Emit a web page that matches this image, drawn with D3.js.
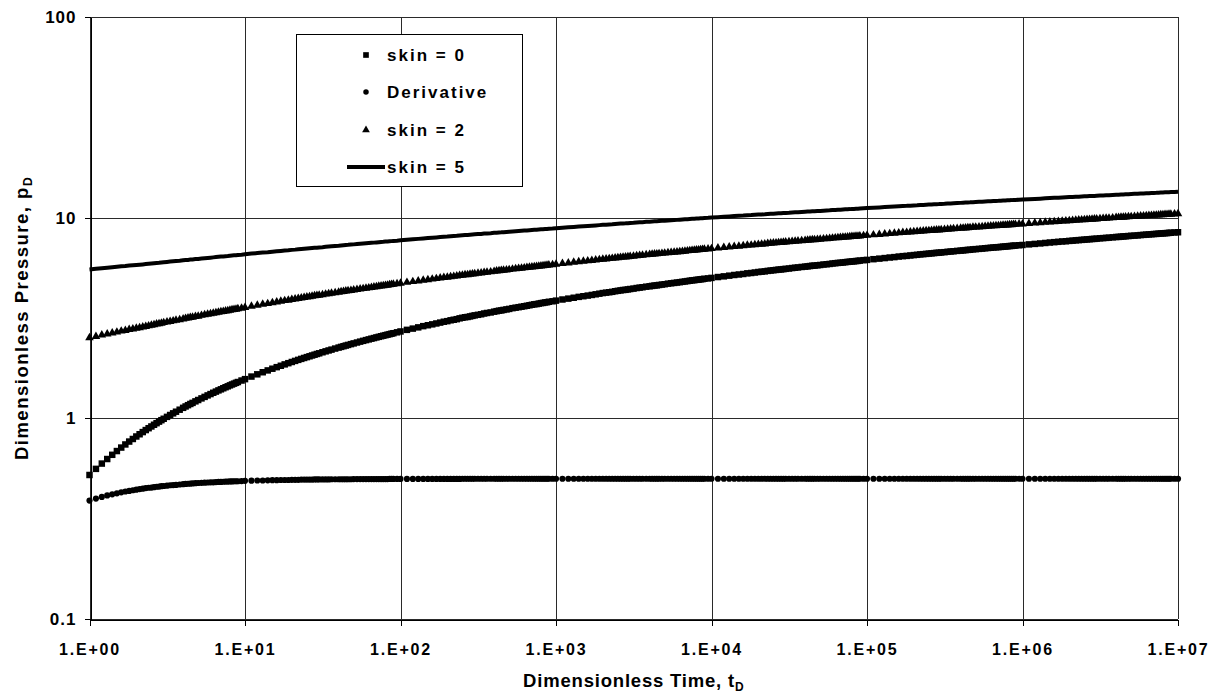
<!DOCTYPE html>
<html>
<head>
<meta charset="utf-8">
<script src="https://cdn.jsdelivr.net/npm/d3@7/dist/d3.min.js"></script>
<style>
  html, body { margin: 0; padding: 0; background: #fff; }
  svg { display: block; }
  text { font-family: "Liberation Sans", Arial, Helvetica, sans-serif; font-weight: bold; fill: #000; }
</style>
</head>
<body>
<svg id="chart" width="1215" height="693"></svg>
<script>
// Dimensionless time samples (shared by every series), 50 per decade
const tD = [
  1,1.1,1.2,1.3,1.4,1.5,1.6,1.7,1.8,1.9, 2,2.1,2.2,2.3,2.4,2.5,2.6,2.7,2.8,2.9,
  3,3.15,3.3,3.45,3.6,3.8,4,4.15,4.3,4.45, 4.6,4.8,5,5.25,5.5,5.75,6,6.25,6.5,6.75,
  7,7.25,7.5,7.75,8,8.25,8.5,8.75,9,9.5,
  1e1,1.1e1,1.2e1,1.3e1,1.4e1,1.5e1,1.6e1,1.7e1,1.8e1,1.9e1, 2e1,2.1e1,2.2e1,2.3e1,2.4e1,2.5e1,2.6e1,2.7e1,2.8e1,2.9e1,
  3e1,3.15e1,3.3e1,3.45e1,3.6e1,3.8e1,4e1,4.15e1,4.3e1,4.45e1, 4.6e1,4.8e1,5e1,5.25e1,5.5e1,5.75e1,6e1,6.25e1,6.5e1,6.75e1,
  7e1,7.25e1,7.5e1,7.75e1,8e1,8.25e1,8.5e1,8.75e1,9e1,9.5e1,
  1e2,1.1e2,1.2e2,1.3e2,1.4e2,1.5e2,1.6e2,1.7e2,1.8e2,1.9e2, 2e2,2.1e2,2.2e2,2.3e2,2.4e2,2.5e2,2.6e2,2.7e2,2.8e2,2.9e2,
  3e2,3.15e2,3.3e2,3.45e2,3.6e2,3.8e2,4e2,4.15e2,4.3e2,4.45e2, 4.6e2,4.8e2,5e2,5.25e2,5.5e2,5.75e2,6e2,6.25e2,6.5e2,6.75e2,
  7e2,7.25e2,7.5e2,7.75e2,8e2,8.25e2,8.5e2,8.75e2,9e2,9.5e2,
  1e3,1.1e3,1.2e3,1.3e3,1.4e3,1.5e3,1.6e3,1.7e3,1.8e3,1.9e3, 2e3,2.1e3,2.2e3,2.3e3,2.4e3,2.5e3,2.6e3,2.7e3,2.8e3,2.9e3,
  3e3,3.15e3,3.3e3,3.45e3,3.6e3,3.8e3,4e3,4.15e3,4.3e3,4.45e3, 4.6e3,4.8e3,5e3,5.25e3,5.5e3,5.75e3,6e3,6.25e3,6.5e3,6.75e3,
  7e3,7.25e3,7.5e3,7.75e3,8e3,8.25e3,8.5e3,8.75e3,9e3,9.5e3,
  1e4,1.1e4,1.2e4,1.3e4,1.4e4,1.5e4,1.6e4,1.7e4,1.8e4,1.9e4, 2e4,2.1e4,2.2e4,2.3e4,2.4e4,2.5e4,2.6e4,2.7e4,2.8e4,2.9e4,
  3e4,3.15e4,3.3e4,3.45e4,3.6e4,3.8e4,4e4,4.15e4,4.3e4,4.45e4, 4.6e4,4.8e4,5e4,5.25e4,5.5e4,5.75e4,6e4,6.25e4,6.5e4,6.75e4,
  7e4,7.25e4,7.5e4,7.75e4,8e4,8.25e4,8.5e4,8.75e4,9e4,9.5e4,
  1e5,1.1e5,1.2e5,1.3e5,1.4e5,1.5e5,1.6e5,1.7e5,1.8e5,1.9e5, 2e5,2.1e5,2.2e5,2.3e5,2.4e5,2.5e5,2.6e5,2.7e5,2.8e5,2.9e5,
  3e5,3.15e5,3.3e5,3.45e5,3.6e5,3.8e5,4e5,4.15e5,4.3e5,4.45e5, 4.6e5,4.8e5,5e5,5.25e5,5.5e5,5.75e5,6e5,6.25e5,6.5e5,6.75e5,
  7e5,7.25e5,7.5e5,7.75e5,8e5,8.25e5,8.5e5,8.75e5,9e5,9.5e5,
  1e6,1.1e6,1.2e6,1.3e6,1.4e6,1.5e6,1.6e6,1.7e6,1.8e6,1.9e6, 2e6,2.1e6,2.2e6,2.3e6,2.4e6,2.5e6,2.6e6,2.7e6,2.8e6,2.9e6,
  3e6,3.15e6,3.3e6,3.45e6,3.6e6,3.8e6,4e6,4.15e6,4.3e6,4.45e6, 4.6e6,4.8e6,5e6,5.25e6,5.5e6,5.75e6,6e6,6.25e6,6.5e6,6.75e6,
  7e6,7.25e6,7.5e6,7.75e6,8e6,8.25e6,8.5e6,8.75e6,9e6,9.5e6,
  1e7
];

// Dimensionless pressure, skin = 0
const pSkin0 = [
  0.522,0.560,0.595,0.627,0.658,0.687,0.715,0.741,0.766,0.789, 0.812,0.833,0.854,0.874,0.893,0.911,0.929,0.946,0.963,0.979,
  0.995,1.017,1.039,1.059,1.079,1.104,1.128,1.146,1.163,1.179, 1.194,1.215,1.234,1.257,1.279,1.301,1.321,1.341,1.359,1.378,
  1.395,1.412,1.429,1.444,1.460,1.475,1.489,1.503,1.517,1.543,
  1.568,1.615,1.657,1.697,1.733,1.767,1.799,1.828,1.857,1.883, 1.909,1.933,1.956,1.978,1.999,2.019,2.038,2.057,2.075,2.093,
  2.109,2.134,2.157,2.179,2.200,2.227,2.252,2.270,2.288,2.305, 2.322,2.343,2.363,2.387,2.411,2.433,2.454,2.474,2.494,2.512,
  2.531,2.548,2.565,2.581,2.597,2.612,2.627,2.642,2.656,2.683,
  2.71,2.76,2.80,2.84,2.88,2.91,2.94,2.97,3.00,3.03, 3.05,3.08,3.10,3.12,3.15,3.17,3.19,3.20,3.22,3.24,
  3.26,3.28,3.30,3.33,3.35,3.37,3.40,3.42,3.44,3.45, 3.47,3.49,3.51,3.54,3.56,3.58,3.60,3.62,3.64,3.66,
  3.68,3.70,3.71,3.73,3.75,3.76,3.78,3.79,3.81,3.83,
  3.86,3.91,3.95,3.99,4.03,4.06,4.09,4.12,4.15,4.18, 4.21,4.23,4.25,4.27,4.30,4.32,4.34,4.36,4.37,4.39,
  4.41,4.43,4.46,4.48,4.50,4.53,4.55,4.57,4.59,4.60, 4.62,4.64,4.66,4.69,4.71,4.73,4.75,4.77,4.79,4.81,
  4.83,4.85,4.87,4.88,4.90,4.91,4.93,4.94,4.96,4.98,
  5.01,5.06,5.10,5.14,5.18,5.21,5.24,5.28,5.30,5.33, 5.36,5.38,5.40,5.43,5.45,5.47,5.49,5.51,5.52,5.54,
  5.56,5.58,5.61,5.63,5.65,5.68,5.70,5.72,5.74,5.76, 5.77,5.79,5.81,5.84,5.86,5.88,5.91,5.93,5.95,5.96,
  5.98,6.00,6.02,6.03,6.05,6.06,6.08,6.09,6.11,6.14,
  6.16,6.21,6.25,6.29,6.33,6.36,6.40,6.43,6.45,6.48, 6.51,6.53,6.56,6.58,6.60,6.62,6.64,6.66,6.68,6.69,
  6.71,6.73,6.76,6.78,6.80,6.83,6.85,6.87,6.89,6.91, 6.92,6.95,6.97,6.99,7.01,7.04,7.06,7.08,7.10,7.12,
  7.13,7.15,7.17,7.18,7.20,7.22,7.23,7.25,7.26,7.29,
  7.31,7.36,7.40,7.44,7.48,7.52,7.55,7.58,7.61,7.63, 7.66,7.68,7.71,7.73,7.75,7.77,7.79,7.81,7.83,7.84,
  7.86,7.89,7.91,7.93,7.95,7.98,8.01,8.02,8.04,8.06, 8.08,8.10,8.12,8.14,8.16,8.19,8.21,8.23,8.25,8.27,
  8.29,8.30,8.32,8.34,8.35,8.37,8.38,8.40,8.41,8.44,
  8.46
];

// Pressure derivative
const pDeriv = [
  0.389,0.398,0.406,0.413,0.418,0.423,0.428,0.432,0.435,0.438, 0.441,0.444,0.446,0.449,0.451,0.452,0.454,0.456,0.457,0.459,
  0.460,0.462,0.464,0.465,0.466,0.468,0.470,0.471,0.472,0.473, 0.474,0.475,0.476,0.477,0.478,0.479,0.480,0.480,0.481,0.482,
  0.482,0.483,0.484,0.484,0.485,0.485,0.486,0.486,0.486,0.487,
  0.488,0.489,0.490,0.490,0.491,0.492,0.492,0.493,0.493,0.493, 0.494,0.494,0.494,0.495,0.495,0.495,0.495,0.495,0.496,0.496,
  0.496,0.496,0.496,0.496,0.497,0.497,0.497,0.497,0.497,0.497, 0.497,0.497,0.498,0.498,0.498,0.498,0.498,0.498,0.498,0.498,
  0.498,0.498,0.498,0.498,0.498,0.498,0.499,0.499,0.499,0.499,
  0.499,0.499,0.499,0.499,0.499,0.499,0.499,0.499,0.499,0.499, 0.499,0.499,0.499,0.499,0.499,0.5,0.5,0.5,0.5,0.5,
  0.5,0.5,0.5,0.5,0.5,0.5,0.5,0.5,0.5,0.5, 0.5,0.5,0.5,0.5,0.5,0.5,0.5,0.5,0.5,0.5,
  0.5,0.5,0.5,0.5,0.5,0.5,0.5,0.5,0.5,0.5,
  0.5,0.5,0.5,0.5,0.5,0.5,0.5,0.5,0.5,0.5, 0.5,0.5,0.5,0.5,0.5,0.5,0.5,0.5,0.5,0.5,
  0.5,0.5,0.5,0.5,0.5,0.5,0.5,0.5,0.5,0.5, 0.5,0.5,0.5,0.5,0.5,0.5,0.5,0.5,0.5,0.5,
  0.5,0.5,0.5,0.5,0.5,0.5,0.5,0.5,0.5,0.5,
  0.5,0.5,0.5,0.5,0.5,0.5,0.5,0.5,0.5,0.5, 0.5,0.5,0.5,0.5,0.5,0.5,0.5,0.5,0.5,0.5,
  0.5,0.5,0.5,0.5,0.5,0.5,0.5,0.5,0.5,0.5, 0.5,0.5,0.5,0.5,0.5,0.5,0.5,0.5,0.5,0.5,
  0.5,0.5,0.5,0.5,0.5,0.5,0.5,0.5,0.5,0.5,
  0.5,0.5,0.5,0.5,0.5,0.5,0.5,0.5,0.5,0.5, 0.5,0.5,0.5,0.5,0.5,0.5,0.5,0.5,0.5,0.5,
  0.5,0.5,0.5,0.5,0.5,0.5,0.5,0.5,0.5,0.5, 0.5,0.5,0.5,0.5,0.5,0.5,0.5,0.5,0.5,0.5,
  0.5,0.5,0.5,0.5,0.5,0.5,0.5,0.5,0.5,0.5,
  0.5,0.5,0.5,0.5,0.5,0.5,0.5,0.5,0.5,0.5, 0.5,0.5,0.5,0.5,0.5,0.5,0.5,0.5,0.5,0.5,
  0.5,0.5,0.5,0.5,0.5,0.5,0.5,0.5,0.5,0.5, 0.5,0.5,0.5,0.5,0.5,0.5,0.5,0.5,0.5,0.5,
  0.5,0.5,0.5,0.5,0.5,0.5,0.5,0.5,0.5,0.5,
  0.5
];

// Dimensionless pressure, skin = 2
const pSkin2 = [
  2.52,2.56,2.60,2.63,2.66,2.69,2.72,2.74,2.77,2.79, 2.81,2.83,2.85,2.87,2.89,2.91,2.93,2.95,2.96,2.98,
  3.00,3.02,3.04,3.06,3.08,3.10,3.13,3.15,3.16,3.18, 3.19,3.22,3.23,3.26,3.28,3.30,3.32,3.34,3.36,3.38,
  3.40,3.41,3.43,3.44,3.46,3.48,3.49,3.50,3.52,3.54,
  3.57,3.62,3.66,3.70,3.73,3.77,3.80,3.83,3.86,3.88, 3.91,3.93,3.96,3.98,4.00,4.02,4.04,4.06,4.08,4.09,
  4.11,4.13,4.16,4.18,4.20,4.23,4.25,4.27,4.29,4.31, 4.32,4.34,4.36,4.39,4.41,4.43,4.45,4.47,4.49,4.51,
  4.53,4.55,4.57,4.58,4.60,4.61,4.63,4.64,4.66,4.68,
  4.71,4.76,4.80,4.84,4.88,4.91,4.94,4.97,5.00,5.03, 5.05,5.08,5.10,5.12,5.15,5.17,5.19,5.20,5.22,5.24,
  5.26,5.28,5.30,5.33,5.35,5.37,5.40,5.42,5.44,5.45, 5.47,5.49,5.51,5.54,5.56,5.58,5.60,5.62,5.64,5.66,
  5.68,5.70,5.71,5.73,5.75,5.76,5.78,5.79,5.81,5.83,
  5.86,5.91,5.95,5.99,6.03,6.06,6.09,6.12,6.15,6.18, 6.21,6.23,6.25,6.27,6.30,6.32,6.34,6.36,6.37,6.39,
  6.41,6.43,6.46,6.48,6.50,6.53,6.55,6.57,6.59,6.60, 6.62,6.64,6.66,6.69,6.71,6.73,6.75,6.77,6.79,6.81,
  6.83,6.85,6.87,6.88,6.90,6.91,6.93,6.94,6.96,6.98,
  7.01,7.06,7.10,7.14,7.18,7.21,7.24,7.28,7.30,7.33, 7.36,7.38,7.40,7.43,7.45,7.47,7.49,7.51,7.52,7.54,
  7.56,7.58,7.61,7.63,7.65,7.68,7.70,7.72,7.74,7.76, 7.77,7.79,7.81,7.84,7.86,7.88,7.91,7.93,7.95,7.96,
  7.98,8.00,8.02,8.03,8.05,8.06,8.08,8.09,8.11,8.14,
  8.16,8.21,8.25,8.29,8.33,8.36,8.40,8.43,8.45,8.48, 8.51,8.53,8.56,8.58,8.60,8.62,8.64,8.66,8.68,8.69,
  8.71,8.73,8.76,8.78,8.80,8.83,8.85,8.87,8.89,8.91, 8.92,8.95,8.97,8.99,9.01,9.04,9.06,9.08,9.10,9.12,
  9.13,9.15,9.17,9.18,9.20,9.22,9.23,9.25,9.26,9.29,
  9.31,9.36,9.40,9.44,9.48,9.52,9.55,9.58,9.61,9.63, 9.66,9.68,9.71,9.73,9.75,9.77,9.79,9.81,9.83,9.84,
  9.86,9.89,9.91,9.93,9.95,9.98,10.01,10.02,10.04,10.06, 10.08,10.10,10.12,10.14,10.16,10.19,10.21,10.23,10.25,10.27,
  10.29,10.30,10.32,10.34,10.35,10.37,10.38,10.40,10.41,10.44,
  10.46
];

// Dimensionless pressure, skin = 5
const pSkin5 = [
  5.52,5.56,5.60,5.63,5.66,5.69,5.72,5.74,5.77,5.79, 5.81,5.83,5.85,5.87,5.89,5.91,5.93,5.95,5.96,5.98,
  6.00,6.02,6.04,6.06,6.08,6.10,6.13,6.15,6.16,6.18, 6.19,6.22,6.23,6.26,6.28,6.30,6.32,6.34,6.36,6.38,
  6.40,6.41,6.43,6.44,6.46,6.48,6.49,6.50,6.52,6.54,
  6.57,6.62,6.66,6.70,6.73,6.77,6.80,6.83,6.86,6.88, 6.91,6.93,6.96,6.98,7.00,7.02,7.04,7.06,7.08,7.09,
  7.11,7.13,7.16,7.18,7.20,7.23,7.25,7.27,7.29,7.31, 7.32,7.34,7.36,7.39,7.41,7.43,7.45,7.47,7.49,7.51,
  7.53,7.55,7.57,7.58,7.60,7.61,7.63,7.64,7.66,7.68,
  7.71,7.76,7.80,7.84,7.88,7.91,7.94,7.97,8.00,8.03, 8.05,8.08,8.10,8.12,8.15,8.17,8.19,8.20,8.22,8.24,
  8.26,8.28,8.30,8.33,8.35,8.37,8.40,8.42,8.44,8.45, 8.47,8.49,8.51,8.54,8.56,8.58,8.60,8.62,8.64,8.66,
  8.68,8.70,8.71,8.73,8.75,8.76,8.78,8.79,8.81,8.83,
  8.86,8.91,8.95,8.99,9.03,9.06,9.09,9.12,9.15,9.18, 9.21,9.23,9.25,9.27,9.30,9.32,9.34,9.36,9.37,9.39,
  9.41,9.43,9.46,9.48,9.50,9.53,9.55,9.57,9.59,9.60, 9.62,9.64,9.66,9.69,9.71,9.73,9.75,9.77,9.79,9.81,
  9.83,9.85,9.87,9.88,9.90,9.91,9.93,9.94,9.96,9.98,
  10.01,10.06,10.10,10.14,10.18,10.21,10.24,10.28,10.30,10.33, 10.36,10.38,10.40,10.43,10.45,10.47,10.49,10.51,10.52,10.54,
  10.56,10.58,10.61,10.63,10.65,10.68,10.70,10.72,10.74,10.76, 10.77,10.79,10.81,10.84,10.86,10.88,10.91,10.93,10.95,10.96,
  10.98,11.00,11.02,11.03,11.05,11.06,11.08,11.09,11.11,11.14,
  11.16,11.21,11.25,11.29,11.33,11.36,11.40,11.43,11.45,11.48, 11.51,11.53,11.56,11.58,11.60,11.62,11.64,11.66,11.68,11.69,
  11.71,11.73,11.76,11.78,11.80,11.83,11.85,11.87,11.89,11.91, 11.92,11.95,11.97,11.99,12.01,12.04,12.06,12.08,12.10,12.12,
  12.13,12.15,12.17,12.18,12.20,12.22,12.23,12.25,12.26,12.29,
  12.31,12.36,12.40,12.44,12.48,12.52,12.55,12.58,12.61,12.63, 12.66,12.68,12.71,12.73,12.75,12.77,12.79,12.81,12.83,12.84,
  12.86,12.89,12.91,12.93,12.95,12.98,13.01,13.02,13.04,13.06, 13.08,13.10,13.12,13.14,13.16,13.19,13.21,13.23,13.25,13.27,
  13.29,13.30,13.32,13.34,13.35,13.37,13.38,13.40,13.41,13.44,
  13.46
];

// Axis ticks and labels
const xTicks = [1, 10, 100, 1e3, 1e4, 1e5, 1e6, 1e7];
const xTickLabels = ["1.E+00", "1.E+01", "1.E+02", "1.E+03", "1.E+04", "1.E+05", "1.E+06", "1.E+07"];
const yTicks = [0.1, 1, 10, 100];
const yTickLabels = ["0.1", "1", "10", "100"];

const legendLabels = ["skin = 0", "Derivative", "skin = 2", "skin = 5"];

// ---- layout ----
const svg = d3.select("#chart");
const plot = { left: 89.5, right: 1178, top: 17, bottom: 619 };

const x = d3.scaleLog().domain([1, 1e7]).range([plot.left, plot.right]);
const y = d3.scaleLog().domain([0.1, 100]).range([plot.bottom, plot.top]);

svg.append("rect").attr("width", 1215).attr("height", 693).attr("fill", "#fff");

// grid lines at each decade
const grid = svg.append("g").attr("stroke", "#2a2a2a").attr("stroke-width", 1).attr("shape-rendering", "crispEdges");
grid.selectAll("line.vx").data(xTicks).join("line")
  .attr("x1", d => Math.round(x(d)) + 0.5).attr("x2", d => Math.round(x(d)) + 0.5)
  .attr("y1", plot.top).attr("y2", plot.bottom);
grid.selectAll("line.hy").data(yTicks).join("line")
  .attr("y1", d => Math.round(y(d)) + 0.5).attr("y2", d => Math.round(y(d)) + 0.5)
  .attr("x1", plot.left).attr("x2", plot.right);

// axes
const xAxis = svg.append("g")
  .attr("transform", `translate(0,${Math.round(y(0.1)) + 0.5})`)
  .call(d3.axisBottom(x).tickValues(xTicks).tickFormat((d, i) => xTickLabels[i]).tickSize(6).tickSizeOuter(0));
xAxis.selectAll("text").attr("y", 24).attr("font-size", 16).style("letter-spacing", "1.8px");

const yAxis = svg.append("g")
  .attr("transform", `translate(${Math.round(x(1)) + 0.5},0)`)
  .call(d3.axisLeft(y).tickValues(yTicks).tickFormat((d, i) => yTickLabels[i]).tickSize(6).tickSizeOuter(0));
yAxis.selectAll("text").attr("x", -14).attr("font-size", 17).style("letter-spacing", "1px");

[xAxis, yAxis].forEach(g => {
  g.select(".domain").attr("stroke", "#000").attr("shape-rendering", "crispEdges");
  g.selectAll(".tick line").attr("stroke", "#000").attr("shape-rendering", "crispEdges");
  g.selectAll("text").attr("fill", "#000").attr("font-family", null).attr("font-weight", "bold");
});

// axis titles
const xTitle = svg.append("text")
  .attr("x", (plot.left + plot.right) / 2).attr("y", 687)
  .attr("text-anchor", "middle").attr("font-size", 18.5).style("letter-spacing", "0.8px");
xTitle.append("tspan").text("Dimensionless Time, t");
xTitle.append("tspan").attr("font-size", 12).attr("dy", 4).text("D");

const yTitle = svg.append("text")
  .attr("transform", `translate(28,${(plot.top + plot.bottom) / 2}) rotate(-90)`)
  .attr("text-anchor", "middle").attr("font-size", 18.5).style("letter-spacing", "1.5px");
yTitle.append("tspan").text("Dimensionless Pressure, p");
yTitle.append("tspan").attr("font-size", 12).attr("dy", 4).text("D");

// series
const pts = vals => tD.map((t, i) => [t, vals[i]]);
const marks = svg.append("g");

function drawMarkers(vals, type, size) {
  const sym = d3.symbol().type(type).size(size);
  marks.append("g").selectAll("path").data(pts(vals)).join("path")
    .attr("transform", d => `translate(${x(d[0])},${y(d[1])})`)
    .attr("d", sym).attr("fill", "#000");
}

drawMarkers(pSkin0, d3.symbolSquare, 42);
drawMarkers(pDeriv, d3.symbolCircle, 30);
drawMarkers(pSkin2, d3.symbolTriangle, 32);

marks.append("path")
  .datum(pts(pSkin5))
  .attr("fill", "none").attr("stroke", "#000").attr("stroke-width", 4)
  .attr("d", d3.line().x(d => x(d[0])).y(d => y(d[1])));

// legend
const lg = svg.append("g");
lg.append("rect").attr("x", 296.5).attr("y", 34.5).attr("width", 226).attr("height", 152)
  .attr("fill", "#fff").attr("stroke", "#000").attr("stroke-width", 1).attr("shape-rendering", "crispEdges");
const rowY = [55, 92, 130, 167];
const mx = 366;
lg.append("path").attr("transform", `translate(${mx},${rowY[0]})`).attr("d", d3.symbol().type(d3.symbolSquare).size(32)).attr("fill", "#000");
lg.append("path").attr("transform", `translate(${mx},${rowY[1]})`).attr("d", d3.symbol().type(d3.symbolCircle).size(24)).attr("fill", "#000");
lg.append("path").attr("transform", `translate(${mx},${rowY[2]})`).attr("d", d3.symbol().type(d3.symbolTriangle).size(26)).attr("fill", "#000");
lg.append("line").attr("x1", 347).attr("x2", 385).attr("y1", rowY[3]).attr("y2", rowY[3]).attr("stroke", "#000").attr("stroke-width", 4);
lg.selectAll("text.lab").data(legendLabels).join("text")
  .attr("x", 387).attr("y", (d, i) => rowY[i] + 6)
  .attr("font-size", 17).style("letter-spacing", "2px")
  .text(d => d);
</script>
</body>
</html>
